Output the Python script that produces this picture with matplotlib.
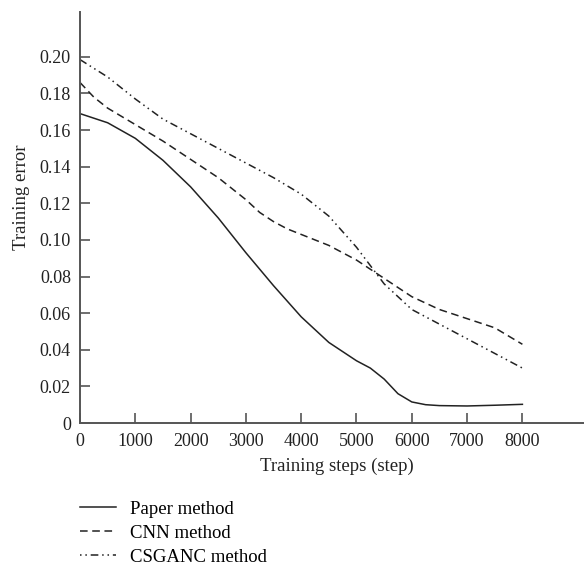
import matplotlib
matplotlib.use("Agg")
import matplotlib.pyplot as plt
from matplotlib.lines import Line2D

plt.rcParams['font.family'] = ['Liberation Serif', 'DejaVu Serif']

steps_paper = [0, 500, 1000, 1500, 2000, 2500, 3000, 3500, 4000, 4500, 5000, 5250, 5500, 5750, 6000, 6250, 6500, 7000, 7500, 8000]
err_paper = [0.169, 0.164, 0.1555, 0.1435, 0.129, 0.112, 0.093, 0.075, 0.058, 0.044, 0.034, 0.030, 0.024, 0.016, 0.0115, 0.010, 0.0095, 0.0093, 0.0097, 0.0102]

steps_cnn = [0, 250, 500, 1000, 1500, 2000, 2500, 3000, 3250, 3500, 3750, 4000, 4500, 5000, 5500, 6000, 6500, 7000, 7500, 8000]
err_cnn = [0.186, 0.178, 0.172, 0.163, 0.154, 0.144, 0.134, 0.122, 0.115, 0.110, 0.106, 0.103, 0.097, 0.089, 0.079, 0.069, 0.062, 0.057, 0.052, 0.043]

steps_csganc = [0, 500, 1000, 1500, 2000, 2500, 3000, 3500, 4000, 4500, 5000, 5250, 5500, 6000, 6500, 7000, 7500, 8000]
err_csganc = [0.1985, 0.189, 0.177, 0.166, 0.158, 0.150, 0.142, 0.134, 0.125, 0.113, 0.096, 0.086, 0.076, 0.062, 0.054, 0.046, 0.038, 0.030]

labels = ['Paper method', 'CNN method', 'CSGANC method']
xticks = [0, 1000, 2000, 3000, 4000, 5000, 6000, 7000, 8000]
yticks = [0, 0.02, 0.04, 0.06, 0.08, 0.10, 0.12, 0.14, 0.16, 0.18, 0.20]
ytick_labels = ['0', '0.02', '0.04', '0.06', '0.08', '0.10', '0.12', '0.14', '0.16', '0.18', '0.20']

fig = plt.figure(figsize=(5.84, 5.69), dpi=100)
ax = fig.add_axes([80/584, 1-423/569, 1-80/584, (423-12)/569])

lc = '#222222'
lw = 1.1
ax.plot(steps_paper, err_paper, color=lc, lw=lw, linestyle='-', label=labels[0])
ax.plot(steps_cnn, err_cnn, color=lc, lw=lw, linestyle=(0, (5, 3)), label=labels[1])
ax.plot(steps_csganc, err_csganc, color=lc, lw=lw, linestyle=(0, (5, 2.5, 1, 2.5, 1, 2.5)), label=labels[2])

ax.set_xlim(0, 9114)
ax.set_ylim(0, 0.2245)
ax.set_xticks(xticks)
ax.set_xticklabels([str(t) for t in xticks])
ax.set_yticks(yticks)
ax.set_yticklabels(ytick_labels)

for s in ['top', 'right']:
    ax.spines[s].set_visible(False)
for s in ['left', 'bottom']:
    ax.spines[s].set_color('#555555')
    ax.spines[s].set_linewidth(1.4)
ax.tick_params(direction='in', length=7, width=1.2, color='#555555', labelsize=13, labelcolor='#222222')
ax.tick_params(axis='y', pad=6.5)
ax.tick_params(axis='x', pad=7)

fig.text(336.5/584, 1-466/569, 'Training steps (step)', ha='center', va='center', fontsize=13.5, color='#222222')
fig.text(21.5/584, 1-197/569, 'Training error', ha='center', va='center', rotation=90, fontsize=13.5, color='#222222')

handles = [Line2D([0], [0], color=lc, lw=lw, linestyle='-'),
           Line2D([0], [0], color=lc, lw=lw, linestyle=(0, (5, 3))),
           Line2D([0], [0], color=lc, lw=lw, linestyle=(0, (1, 2.5, 1, 2.5, 5, 2.5)))]
fig.legend(handles, labels, loc='upper left', bbox_to_anchor=(72/584, 1-493/569), frameon=False,
           fontsize=13.5, handlelength=1.95, handletextpad=0.75, labelspacing=0.37, borderaxespad=0)

fig.savefig('out.png', dpi=100)
